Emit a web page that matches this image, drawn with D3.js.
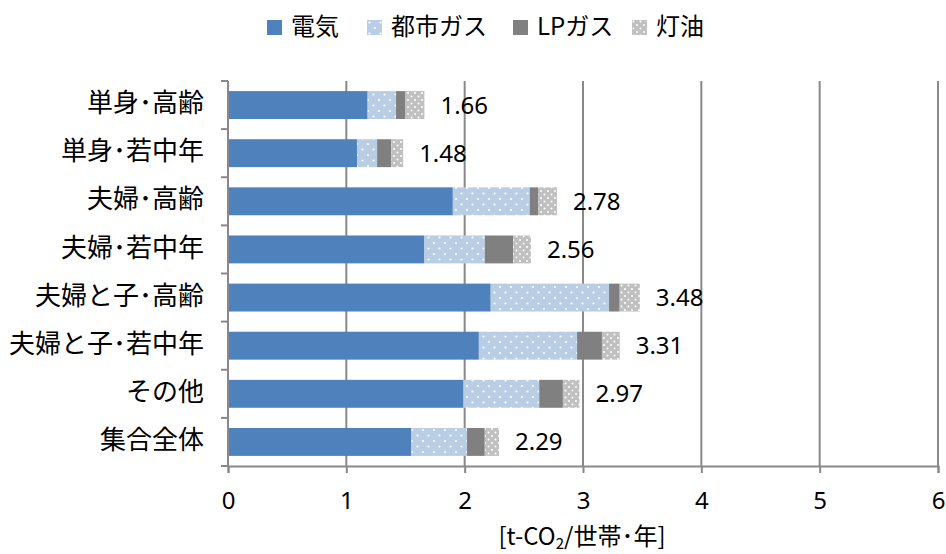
<!DOCTYPE html>
<html>
<head>
<meta charset="utf-8">
<script src="https://cdn.jsdelivr.net/npm/d3@7"></script>
<style>
  body { margin: 0; background: #fff; }
  text { font-family: "Noto Sans CJK JP", "Noto Sans", sans-serif; fill: #000; }
  .num { font-family: "Noto Sans", sans-serif; }
</style>
</head>
<body>
<div id="chart"></div>
<script>
var svgWidth = 946
var svgHeight = 554

// data [t-CO2/世帯・年]
var categories = ["単身･高齢", "単身･若中年", "夫婦･高齢", "夫婦･若中年", "夫婦と子･高齢", "夫婦と子･若中年", "その他", "集合全体"]
var seriesNames = ["電気", "都市ガス", "LPガス", "灯油"]
var electric = [1.18, 1.09, 1.90, 1.66, 2.22, 2.12, 1.99, 1.55]
var cityGas = [0.24, 0.17, 0.65, 0.51, 1.00, 0.83, 0.64, 0.47]
var lpGas = [0.08, 0.12, 0.07, 0.24, 0.09, 0.21, 0.20, 0.15]
var kerosene = [0.16, 0.10, 0.16, 0.15, 0.17, 0.15, 0.14, 0.12]
var totals = ["1.66", "1.48", "2.78", "2.56", "3.48", "3.31", "2.97", "2.29"]
var xTicks = [0, 1, 2, 3, 4, 5, 6]

var margin = {top: 81, left: 228, right: 8, bottom: 88}
var w = svgWidth - margin.left - margin.right
var h = svgHeight - margin.top - margin.bottom

var svg = d3.select("#chart").append("svg")
    .attr("width", svgWidth)
    .attr("height", svgHeight)

// dotted fills
var defs = svg.append("defs")
var p1 = defs.append("pattern").attr("id", "gasDots")
    .attr("width", 11).attr("height", 11).attr("patternUnits", "userSpaceOnUse")
p1.append("rect").attr("width", 11).attr("height", 11).attr("fill", "#b9cde5")
p1.append("circle").attr("cx", 2.5).attr("cy", 2.5).attr("r", 1.1).attr("fill", "#fff")
p1.append("circle").attr("cx", 8).attr("cy", 8).attr("r", 1.1).attr("fill", "#fff")

var p2 = defs.append("pattern").attr("id", "keroDots")
    .attr("width", 7).attr("height", 7).attr("patternUnits", "userSpaceOnUse")
p2.append("rect").attr("width", 7).attr("height", 7).attr("fill", "#c0c0c0")
p2.append("circle").attr("cx", 1.5).attr("cy", 1.5).attr("r", 1).attr("fill", "#fff")
p2.append("circle").attr("cx", 5).attr("cy", 5).attr("r", 1).attr("fill", "#fff")

var fills = ["#4f81bd", "url(#gasDots)", "#808080", "url(#keroDots)"]

var rows = categories.map(function(c, i) {
    return {cat: c, "電気": electric[i], "都市ガス": cityGas[i], "LPガス": lpGas[i], "灯油": kerosene[i], total: totals[i]}
})
var stacked = d3.stack().keys(seriesNames)(rows)

var x = d3.scaleLinear().domain([0, 6]).range([0, w])
var y = d3.scaleBand().domain(categories).range([0, h]).paddingInner(0.42).paddingOuter(0.21)
var yTicksScale = d3.scaleBand().domain(categories).range([0, h])

var g = svg.append("g").attr("transform", "translate(" + margin.left + "," + margin.top + ")")

// grid
g.selectAll(".grid").data(xTicks.slice(1)).enter().append("line")
    .attr("x1", function(d) { return x(d) }).attr("x2", function(d) { return x(d) })
    .attr("y1", 0).attr("y2", h)
    .attr("stroke", "#898989").attr("stroke-width", 2)

// bars
g.selectAll(".series").data(stacked).enter().append("g")
    .attr("fill", function(d, i) { return fills[i] })
    .selectAll("rect").data(function(d) { return d }).enter().append("rect")
    .attr("x", function(d) { return x(d[0]) })
    .attr("width", function(d) { return x(d[1]) - x(d[0]) })
    .attr("y", function(d) { return y(d.data.cat) })
    .attr("height", y.bandwidth())

// total labels
g.selectAll(".total").data(rows).enter().append("text")
    .attr("class", "num")
    .attr("x", function(d) { return x(d["電気"] + d["都市ガス"] + d["LPガス"] + d["灯油"]) + 16 })
    .attr("y", function(d) { return y(d.cat) + y.bandwidth() / 2 + 2 })
    .attr("dominant-baseline", "middle")
    .style("font-size", "24px")
    .text(function(d) { return d.total })

// x axis
var xAxis = g.append("g").attr("transform", "translate(0," + h + ")")
    .call(d3.axisBottom(x).tickValues(xTicks).tickSize(7).tickPadding(19).tickFormat(d3.format("d")))
xAxis.select(".domain").attr("stroke", "#898989").attr("stroke-width", 2)
xAxis.selectAll(".tick line").attr("stroke", "#898989").attr("stroke-width", 2)
xAxis.selectAll("text").attr("class", "num").style("font-size", "24px").attr("fill", "#000")

// y axis with ticks at band boundaries
g.append("line").attr("x1", 0).attr("x2", 0).attr("y1", 0).attr("y2", h)
    .attr("stroke", "#898989").attr("stroke-width", 2)
var bounds = categories.map(function(c) { return yTicksScale(c) }).concat([h])
g.selectAll(".ytick").data(bounds).enter().append("line")
    .attr("x1", -7).attr("x2", 0)
    .attr("y1", function(d) { return d }).attr("y2", function(d) { return d })
    .attr("stroke", "#898989").attr("stroke-width", 2)
g.selectAll(".ylab").data(categories).enter().append("text")
    .attr("x", -24)
    .attr("y", function(d) { return y(d) + y.bandwidth() / 2 })
    .attr("text-anchor", "end").attr("dominant-baseline", "middle")
    .style("font-size", "26px")
    .text(function(d) { return d })

// axis title
var title = svg.append("text")
    .attr("x", margin.left + x(3) - 1).attr("y", 545)
    .attr("text-anchor", "middle").style("font-size", "24px")
title.append("tspan").text("[t-CO")
title.append("tspan").attr("dy", 4).style("font-size", "15px").text("2")
title.append("tspan").attr("dy", -4).text("/世帯･年]")

// legend
var legendX = [267, 367, 513, 632]
var legend = svg.selectAll(".legend").data(seriesNames).enter().append("g")
    .attr("transform", function(d, i) { return "translate(" + legendX[i] + ",20)" })
legend.append("rect").attr("width", 15).attr("height", 15)
    .attr("fill", function(d, i) { return fills[i] })
legend.append("text").attr("x", 24).attr("y", 8)
    .attr("dominant-baseline", "middle").style("font-size", "24px")
    .text(function(d) { return d })
</script>
</body>
</html>
